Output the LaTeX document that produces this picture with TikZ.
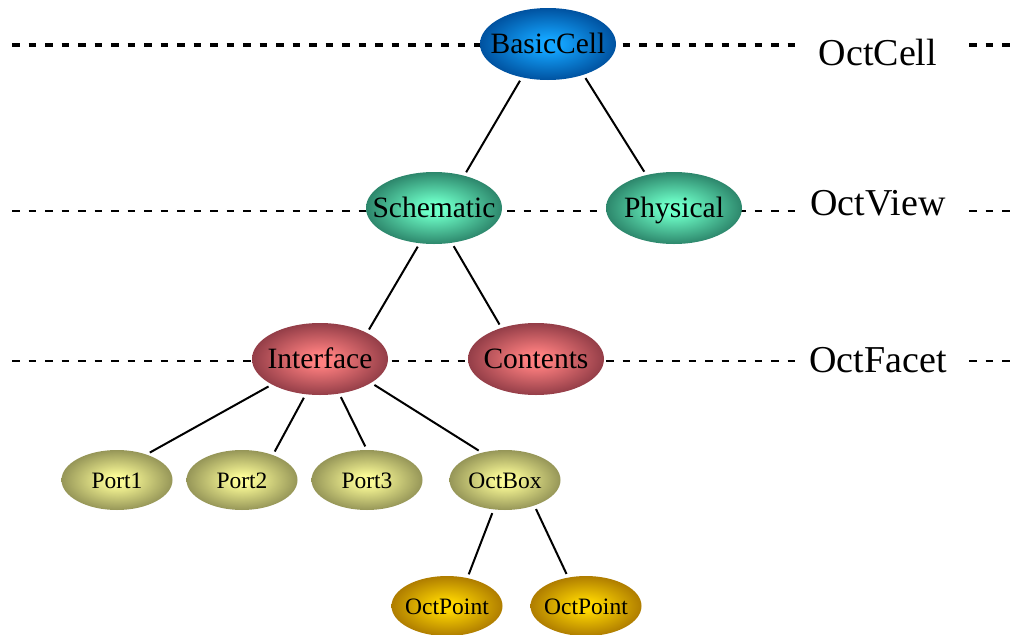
\documentclass[tikz,border=0pt]{standalone}
\usepackage{fontspec}
\setmainfont{Liberation Serif}
\usepackage{tikz}
\usetikzlibrary{shapes.geometric,backgrounds}

% radial fill that runs from the centre right out to the rim
\makeatletter
\pgfdeclareradialshading[tikz@radial@inner,tikz@radial@outer]{glow}{\pgfpointorigin}{color(0bp)=(tikz@radial@inner);color(4bp)=(tikz@radial@inner);color(25bp)=(tikz@radial@outer);color(50bp)=(tikz@radial@outer)}
\makeatother

\definecolor{cellin}{RGB}{20,165,255}
\definecolor{cellout}{RGB}{0,82,160}
\definecolor{viewin}{RGB}{110,255,200}
\definecolor{viewout}{RGB}{45,135,108}
\definecolor{facetin}{RGB}{255,128,128}
\definecolor{facetout}{RGB}{148,62,72}
\definecolor{portin}{RGB}{250,250,150}
\definecolor{portout}{RGB}{150,150,88}
\definecolor{pointin}{RGB}{255,215,0}
\definecolor{pointout}{RGB}{175,125,0}

\begin{document}
\begin{tikzpicture}[x=1pt, y=-1pt,
    blob/.style={ellipse, inner sep=0pt, outer sep=0pt,
        execute at begin node={\hbox to 0pt\bgroup\hss},
        execute at end node={\hss\egroup}},
    bignode/.style={blob, minimum width=136pt, minimum height=72pt,
        text height=21pt, text depth=3pt, font=\fontsize{29.5}{30}\selectfont},
    smallnode/.style={blob, minimum width=111pt, minimum height=60pt,
        text height=18pt, text depth=2pt, font=\fontsize{23.5}{25}\selectfont},
    cellnode/.style={bignode, inner color=cellin, outer color=cellout, shading=glow},
    viewnode/.style={bignode, inner color=viewin, outer color=viewout, shading=glow},
    facetnode/.style={bignode, inner color=facetin, outer color=facetout, shading=glow},
    portnode/.style={smallnode, inner color=portin, outer color=portout, shading=glow},
    pointnode/.style={smallnode, inner color=pointin, outer color=pointout, shading=glow},
    link/.style={line width=2pt, shorten <=4pt, shorten >=4pt},
    levelline/.style={line width=2pt, dash pattern=on 7.5pt off 9pt},
    levelname/.style={fill=white, anchor=base, minimum width=165pt, inner xsep=0pt,
        inner ysep=4pt, font=\fontsize{38}{40}\selectfont}]

    \useasboundingbox (0,0) rectangle (1013,635);

    % Tree
    \node[cellnode] (BasicCell) at (548,44) {BasicCell};
    \node[viewnode] (Schematic) at (434,208) {Schematic};
    \node[viewnode] (Physical) at (674,208) {Physical};
    \node[facetnode] (Interface) at (320,359) {Interface};
    \node[facetnode] (Contents) at (536,359) {Contents};
    \node[portnode] (Port1) at (117,480) {Port1};
    \node[portnode] (Port2) at (242,480) {Port2};
    \node[portnode] (Port3) at (367,480) {Port3};
    \node[portnode] (OctBox) at (505,480) {OctBox};
    \node[pointnode] (OctPoint1) at (447,606) {OctPoint};
    \node[pointnode] (OctPoint2) at (586,606) {OctPoint};

    \draw[link] (BasicCell.232) -- (Schematic.47);
    \draw[link] (BasicCell.319) -- (Physical.130);
    \draw[link] (Schematic.248) -- (Interface.29);
    \draw[link] (Schematic.297) -- (Contents.138);
    \draw[link] (Interface.208) -- (Port1.41);
    \draw[link] (Interface.248) -- (Port2.39);
    \draw[link] (Interface.299) -- (Port3.90);
    \draw[link] (Interface.335) -- (OctBox.130);
    \draw[link] (OctBox.249) -- (OctPoint1.54);
    \draw[link] (OctBox.319) -- (OctPoint2.122);

    % Level names
    \node[levelname] (OctCell) at (878,65) {OctCell};
    \node[levelname] (OctView) at (878,215) {OctView};
    \node[levelname] (OctFacet) at (878,372) {OctFacet};

    % Level lines
    \coordinate (cellL) at (12,45);
    \coordinate (cellR) at (1013,45);
    \coordinate (viewL) at (12,211);
    \coordinate (viewR) at (1013,211);
    \coordinate (facetL) at (12,361);
    \coordinate (facetR) at (1013,361);
    \begin{scope}[on background layer]
        \draw[levelline, line width=3.5pt] (cellL) -- (cellR);
        \draw[levelline] (viewL) -- (viewR);
        \draw[levelline] (facetL) -- (facetR);
    \end{scope}
\end{tikzpicture}
\end{document}
